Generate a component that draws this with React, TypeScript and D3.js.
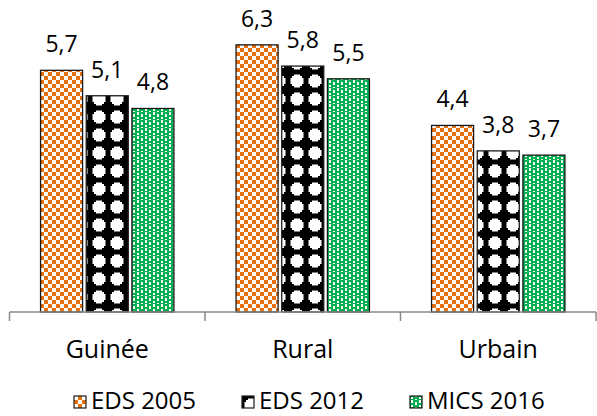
import { useEffect, useRef } from 'react'
import * as d3 from 'd3'

const categories = ['Guinée', 'Rural', 'Urbain']
const seriesNames = ['EDS 2005', 'EDS 2012', 'MICS 2016']
const eds2005 = [5.7, 6.3, 4.4]
const eds2012 = [5.1, 5.8, 3.8]
const mics2016 = [4.8, 5.5, 3.7]

const seriesValues = [eds2005, eds2012, mics2016]
const patternIds = ['pat-checker', 'pat-sphere', 'pat-dots']

export default function App() {
  const svgRef = useRef<SVGSVGElement>(null)

  useEffect(() => {
    document.body.style.margin = '0'
    if (!svgRef.current) return

    const width = 597
    const height = 416
    const svg = d3.select(svgRef.current)
    svg.selectAll('*').remove()
    svg.attr('width', width).attr('height', height)

    const font = "'Open Sans', sans-serif"

    // Patterns
    const defs = svg.append('defs')

    const checker = defs
      .append('pattern')
      .attr('id', patternIds[0])
      .attr('patternUnits', 'userSpaceOnUse')
      .attr('width', 8)
      .attr('height', 8)
    checker.append('rect').attr('width', 8).attr('height', 8).attr('fill', '#fff')
    checker.append('rect').attr('width', 4).attr('height', 4).attr('fill', '#E8700C')
    checker.append('rect').attr('x', 4).attr('y', 4).attr('width', 4).attr('height', 4).attr('fill', '#E8700C')

    const sphere = defs
      .append('pattern')
      .attr('id', patternIds[1])
      .attr('patternUnits', 'userSpaceOnUse')
      .attr('width', 18)
      .attr('height', 18)
    sphere.append('rect').attr('width', 18).attr('height', 18).attr('fill', '#000')
    sphere
      .append('path')
      .attr('d', 'M6,2.5 L12,2.5 L12,4 L14,4 L14,6 L15.5,6 L15.5,12 L14,12 L14,14 L12,14 L12,15.5 L6,15.5 L6,14 L4,14 L4,12 L2.5,12 L2.5,6 L4,6 L4,4 L6,4 Z')
      .attr('fill', '#fff')

    const dots = defs
      .append('pattern')
      .attr('id', patternIds[2])
      .attr('patternUnits', 'userSpaceOnUse')
      .attr('width', 8)
      .attr('height', 8)
    dots.append('rect').attr('width', 8).attr('height', 8).attr('fill', '#00B050')
    dots.append('rect').attr('x', 1).attr('y', 0).attr('width', 2).attr('height', 3).attr('fill', '#fff')
    dots.append('rect').attr('x', 1).attr('y', 5).attr('width', 2).attr('height', 2).attr('fill', '#fff')
    dots.append('rect').attr('x', 5).attr('y', 2).attr('width', 2).attr('height', 3).attr('fill', '#fff')
    dots.append('rect').attr('x', 5).attr('y', 7).attr('width', 2).attr('height', 1).attr('fill', '#fff')

    // Scales
    const x0 = d3.scaleBand<string>().domain(categories).range([9.5, 596]).padding(0)
    const x1 = d3
      .scaleBand<string>()
      .domain(seriesNames)
      .range([0, x0.bandwidth()])
      .paddingInner(0.08)
      .paddingOuter(0.68)
    const y = d3.scaleLinear().domain([0, 7]).range([312, 15.2])

    const fmt = (v: number) => d3.format('.1f')(v).replace('.', ',')

    // Bars
    seriesNames.forEach((s, si) => {
      const vals = seriesValues[si]
      categories.forEach((c, ci) => {
        const v = vals[ci]
        const bx = (x0(c) ?? 0) + (x1(s) ?? 0)
        svg
          .append('rect')
          .attr('x', bx)
          .attr('y', y(v))
          .attr('width', x1.bandwidth())
          .attr('height', y(0) - y(v))
          .attr('fill', `url(#${patternIds[si]})`)
          .attr('stroke', '#1a1a1a')
          .attr('stroke-width', 1.3)

        svg
          .append('text')
          .attr('x', bx + x1.bandwidth() / 2)
          .attr('y', y(v) - 18)
          .attr('text-anchor', 'middle')
          .attr('font-family', font)
          .attr('font-size', '23px')
          .attr('fill', '#000')
          .text(fmt(v))
      })
    })

    // Category axis
    const [r0, r1] = x0.range()
    svg
      .append('line')
      .attr('x1', r0)
      .attr('x2', r1)
      .attr('y1', y(0))
      .attr('y2', y(0))
      .attr('stroke', '#898989')
      .attr('stroke-width', 1.5)
    const tickXs = [...categories.map((c) => x0(c) ?? 0), r1]
    tickXs.forEach((tx) => {
      svg
        .append('line')
        .attr('x1', tx)
        .attr('x2', tx)
        .attr('y1', y(0))
        .attr('y2', y(0) + 9)
        .attr('stroke', '#898989')
        .attr('stroke-width', 1.5)
    })
    categories.forEach((c) => {
      svg
        .append('text')
        .attr('x', (x0(c) ?? 0) + x0.bandwidth() / 2)
        .attr('y', 358)
        .attr('text-anchor', 'middle')
        .attr('font-family', font)
        .attr('font-size', '25px')
        .attr('fill', '#000')
        .text(c)
    })

    // Legend
    const legendX = [74, 242, 410]
    seriesNames.forEach((s, si) => {
      const lg = svg.append('g').attr('transform', `translate(${legendX[si]},0)`)
      lg.append('rect')
        .attr('x', 0)
        .attr('y', 396)
        .attr('width', 12)
        .attr('height', 12)
        .attr('fill', `url(#${patternIds[si]})`)
        .attr('stroke', '#1a1a1a')
        .attr('stroke-width', 1.2)
      lg.append('text')
        .attr('x', 17)
        .attr('y', 409)
        .attr('font-family', font)
        .attr('font-size', '24px')
        .attr('fill', '#000')
        .text(s)
    })
  }, [])

  return (
    <div>
      <svg ref={svgRef} style={{ display: 'block' }} />
    </div>
  )
}
